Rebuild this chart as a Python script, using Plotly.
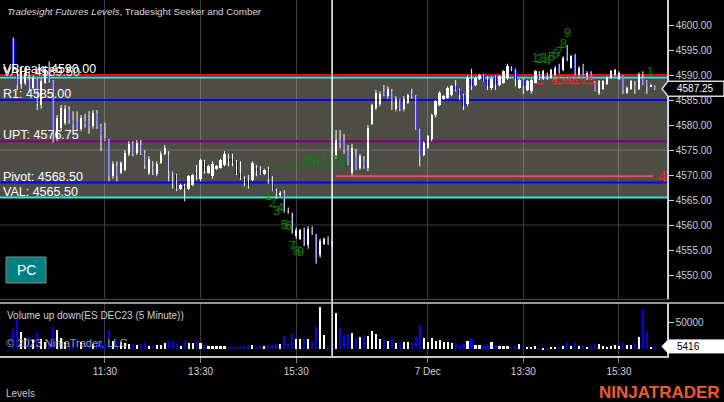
import plotly.graph_objects as go

# ---------------- data ----------------
tick_idx = [23, 47, 71, 104, 128, 152]
tick_txt = ["11:30", "13:30", "15:30", "7 Dec", "13:30", "15:30"]

opens = [4597.25, 4590.75, 4588.25, 4588.5, 4589.0, 4587.5, 4589.0, 4584.0, 4588.5, 4591.25,
         4588.75, 4577.5, 4579.5, 4580.5, 4583.0, 4581.0, 4580.75, 4579.25, 4580.75, 4580.25,
         4579.75, 4582.5, 4579.75, 4577.5, 4577.0, 4569.75, 4571.75, 4570.5, 4571.0, 4574.25,
         4576.5, 4574.5, 4576.0, 4574.5, 4570.5, 4571.5, 4570.25, 4572.5, 4574.25, 4574.25,
         4570.75, 4570.0, 4567.25, 4567.75, 4567.25, 4568.0, 4570.25, 4569.25, 4572.75, 4570.5,
         4569.75, 4571.25, 4571.5, 4572.0, 4573.25, 4573.25, 4572.75, 4570.5, 4569.25, 4568.75,
         4569.0, 4571.5, 4571.0, 4570.25, 4571.25, 4568.75, 4566.75, 4566.0, 4566.5, 4563.0,
         4562.25, 4557.75, 4557.25, 4559.25, 4556.0, 4559.25, 4558.0, 4554.0, 4556.25, 4557.25,
         4556.75,
         4574.0, 4577.0, 4576.75, 4575.0, 4570.5, 4573.75, 4571.5, 4573.25, 4571.5, 4580.25,
         4583.5, 4584.25, 4586.75, 4585.75, 4586.75, 4583.25, 4584.75, 4583.25, 4584.5, 4586.25,
         4585.75, 4579.25, 4574.0, 4575.5, 4577.25, 4582.0, 4584.0, 4585.25, 4585.5, 4586.0,
         4587.75, 4587.0, 4586.0, 4584.25, 4589.25, 4588.0, 4589.25, 4590.0, 4589.0, 4587.5,
         4589.75, 4588.0, 4588.5, 4589.5, 4591.5, 4591.0, 4587.5, 4589.0, 4587.0, 4586.75,
         4588.5, 4590.0, 4589.25, 4590.25, 4589.5, 4589.5, 4591.75, 4591.0, 4593.25, 4591.5,
         4594.0, 4590.0, 4591.0, 4589.25, 4590.75, 4588.0, 4586.5, 4587.25, 4588.25, 4589.5,
         4590.0, 4589.25, 4589.75, 4586.5, 4587.25, 4587.75, 4587.25, 4589.5, 4588.75, 4587.75,
         4588.0]
highs = [4597.5, 4591.25, 4590.75, 4591.0, 4590.75, 4590.0, 4589.25, 4589.25, 4591.75, 4592.75,
         4589.0, 4582.0, 4584.0, 4584.0, 4583.75, 4582.75, 4582.75, 4582.0, 4582.25, 4582.75,
         4583.0, 4583.0, 4580.25, 4580.5, 4577.25, 4572.75, 4572.75, 4572.75, 4575.0, 4576.75,
         4576.75, 4577.0, 4577.0, 4575.0, 4573.75, 4572.75, 4572.75, 4574.75, 4576.0, 4574.75,
         4570.75, 4570.25, 4568.25, 4568.25, 4570.0, 4570.25, 4572.0, 4573.25, 4573.0, 4572.0,
         4572.75, 4572.0, 4573.25, 4574.75, 4574.25, 4574.25, 4573.0, 4572.75, 4569.75, 4570.0,
         4572.75, 4572.0, 4571.75, 4571.25, 4571.75, 4569.75, 4567.25, 4566.75, 4567.0, 4563.5,
         4562.5, 4559.5, 4559.25, 4559.5, 4559.75, 4559.75, 4558.25, 4557.25, 4557.5, 4557.75,
         4556.75,
         4579.0, 4579.0, 4578.25, 4576.0, 4576.25, 4575.25, 4574.25, 4573.75, 4580.0, 4584.25,
         4587.0, 4586.75, 4588.0, 4587.75, 4587.25, 4585.75, 4585.25, 4585.75, 4586.25, 4587.25,
         4586.0, 4579.25, 4576.75, 4578.0, 4582.25, 4585.0, 4586.75, 4586.0, 4587.75, 4588.0,
         4589.0, 4587.25, 4586.25, 4590.0, 4591.25, 4589.75, 4590.25, 4590.25, 4589.75, 4589.75,
         4590.0, 4590.0, 4591.0, 4592.25, 4591.75, 4591.25, 4589.25, 4589.25, 4589.0, 4589.25,
         4591.0, 4590.75, 4591.0, 4590.5, 4591.25, 4591.75, 4592.25, 4593.75, 4596.0, 4594.0,
         4594.25, 4591.75, 4592.25, 4590.75, 4590.75, 4588.75, 4589.0, 4589.0, 4589.75, 4591.0,
         4591.25, 4590.75, 4590.0, 4587.75, 4589.0, 4588.75, 4590.5, 4590.75, 4589.0, 4588.25,
         4588.0]
lows = [4591.0, 4587.0, 4587.25, 4588.0, 4586.75, 4587.0, 4583.0, 4583.25, 4588.25, 4588.5,
        4576.5, 4576.75, 4578.75, 4580.0, 4580.25, 4578.75, 4578.75, 4578.75, 4579.5, 4578.25,
        4579.25, 4579.25, 4574.75, 4576.75, 4568.75, 4569.25, 4568.75, 4570.25, 4570.75, 4573.75,
        4573.75, 4574.0, 4574.0, 4571.25, 4570.0, 4570.0, 4569.75, 4572.25, 4574.0, 4568.75,
        4567.25, 4566.75, 4567.0, 4564.75, 4567.0, 4567.75, 4569.0, 4568.75, 4570.25, 4570.25,
        4569.25, 4571.0, 4571.25, 4571.75, 4571.75, 4571.75, 4570.0, 4569.0, 4567.75, 4567.25,
        4568.75, 4569.75, 4570.0, 4570.0, 4568.25, 4566.75, 4565.25, 4565.75, 4562.5, 4562.25,
        4558.25, 4557.25, 4557.0, 4555.75, 4555.25, 4558.0, 4552.25, 4553.5, 4556.0, 4556.0,
        4555.75,
        4573.25, 4575.25, 4574.25, 4572.0, 4569.75, 4571.0, 4571.0, 4571.25, 4570.75, 4580.0,
        4583.0, 4583.75, 4585.75, 4585.25, 4583.0, 4582.75, 4582.75, 4582.75, 4584.25, 4585.25,
        4579.0, 4571.75, 4573.75, 4575.25, 4576.75, 4581.5, 4583.75, 4585.0, 4585.25, 4585.75,
        4586.75, 4585.0, 4583.0, 4583.75, 4587.0, 4587.75, 4589.0, 4588.75, 4587.0, 4587.0,
        4587.0, 4587.75, 4588.25, 4589.0, 4590.75, 4587.75, 4587.25, 4586.25, 4586.75, 4586.25,
        4588.25, 4589.0, 4589.0, 4589.0, 4589.25, 4589.0, 4590.25, 4590.75, 4592.75, 4591.25,
        4589.75, 4589.75, 4589.75, 4589.0, 4589.0, 4586.75, 4586.0, 4587.0, 4588.0, 4589.25,
        4589.75, 4589.0, 4586.25, 4586.25, 4587.0, 4586.25, 4587.0, 4588.0, 4586.25, 4587.75,
        4587.0]
closes = [4591.5, 4588.0, 4590.5, 4590.5, 4587.25, 4589.5, 4584.25, 4588.75, 4591.25, 4588.75,
          4578.0, 4581.5, 4583.5, 4583.25, 4581.0, 4580.25, 4579.25, 4581.5, 4580.0, 4579.75,
          4582.5, 4579.75, 4577.75, 4577.0, 4569.75, 4572.25, 4569.75, 4572.5, 4574.5, 4576.25,
          4574.25, 4576.5, 4574.25, 4571.75, 4573.25, 4571.25, 4572.25, 4574.25, 4575.5, 4570.75,
          4570.5, 4567.25, 4568.0, 4567.25, 4569.75, 4570.0, 4570.0, 4573.0, 4570.75, 4571.75,
          4572.25, 4571.75, 4573.0, 4574.25, 4572.75, 4572.5, 4570.25, 4569.5, 4568.75, 4567.75,
          4572.5, 4570.75, 4570.25, 4571.0, 4569.25, 4566.75, 4566.25, 4566.5, 4562.75, 4562.5,
          4558.5, 4559.0, 4559.0, 4555.75, 4559.25, 4558.25, 4553.5, 4556.75, 4557.25, 4556.75,
          4555.75,
          4577.0, 4576.5, 4575.0, 4572.25, 4575.5, 4571.25, 4573.75, 4571.75, 4579.5, 4584.0,
          4586.5, 4586.25, 4586.0, 4587.25, 4584.75, 4585.25, 4583.25, 4585.25, 4586.0, 4585.75,
          4579.25, 4573.75, 4576.5, 4577.75, 4582.0, 4584.75, 4586.5, 4585.75, 4587.5, 4587.75,
          4587.0, 4586.0, 4583.75, 4589.5, 4587.75, 4589.5, 4590.0, 4588.75, 4587.75, 4589.25,
          4588.0, 4589.75, 4590.75, 4591.75, 4591.0, 4589.25, 4589.0, 4587.75, 4588.75, 4589.0,
          4590.75, 4589.25, 4590.75, 4589.75, 4591.0, 4591.5, 4590.75, 4593.5, 4593.0, 4593.75,
          4590.0, 4591.5, 4590.0, 4590.5, 4589.0, 4587.0, 4588.75, 4588.75, 4589.5, 4590.75,
          4591.0, 4590.5, 4587.0, 4587.5, 4588.75, 4587.25, 4590.25, 4588.25, 4587.75, 4588.0,
          4587.25]
volumes = [39000, 55000, 33000, 22000, 23000, 17000, 30000, 20000, 14000, 12000,
           42000, 37000, 22000, 14000, 14000, 14000, 17000, 14000, 11000, 11000,
           9500, 9500, 17000, 11000, 37000, 16000, 14000, 14000, 12000, 9500,
           9500, 8200, 10000, 11000, 7000, 7000, 9000, 9000, 11000, 15000,
           15000, 12000, 7000, 15000, 12000, 11000, 15000, 12000, 7600, 5700,
           5700, 6300, 5700, 6300, 4400, 4400, 5000, 6300, 7000, 8200,
           9000, 4400, 6300, 7000, 8200, 8200, 9500, 9500, 25000, 9500,
           28000, 19000, 19000, 19000, 19000, 16000, 41000, 80000, 27000, 4400,
           3200,
           69000, 40500, 27000, 29000, 31000, 21500, 23400, 27000, 25000,
           35000, 28000, 19600, 17000, 16000, 21000, 12000, 12000, 14000, 14000,
           12000, 23400, 45600, 21500, 14000, 21000, 16500, 17000, 14000, 14000,
           12000, 12000, 9000, 10000, 16000, 19000, 8200, 8200, 6300, 7600,
           13000, 8200, 5700, 5700, 5700, 3800, 8200, 9500, 5700, 3800,
           3800, 5700, 1900, 2500, 2500, 3800, 3800, 3800, 6300, 13000,
           6300, 11400, 6300, 6300, 4400, 6300, 10000, 10000, 6300, 4400,
           6300, 8200, 6300, 11400, 8200, 8200, 10000, 23400, 76000, 33000,
           3800, 5416]

level_names = ["VBreak", "VAH", "R1", "UPT", "Pivot", "VAL"]
level_values = [4590.00, 4589.50, 4585.00, 4576.75, 4568.50, 4565.50]

price_ticks = [4550, 4555, 4560, 4565, 4570, 4575, 4580, 4585, 4590, 4595, 4600]
price_grid = [4560, 4575, 4590]
vol_ticks = [50000]

# Tradesight counts (bar index, count)
td_low_idx = [64, 65, 66, 67, 68, 69, 70, 71, 72]
td_low_cnt = [1, 2, 3, 4, 5, 6, 7, 8, 9]
td_high_idx = [131, 132, 133, 134, 135, 136, 137, 138, 139, 160]
td_high_cnt = [1, 2, 3, 4, 5, 6, 7, 8, 9, 1]

# Seeker / Comber levels: (start bar, end bar, price)
green_level = (64, 84, 4571.75)
red_dash_level = (131, 146.5, 4588.25)
red_level = (81, 160.5, 4569.75, "4")
cursor_bar = 80

# ---------------- geometry / style ----------------
W, H = 724, 402
PR = 667          # right edge of plot area (px)
PB = 356          # bottom of plot area (px)
price_top, price_bot = 0, 299
vol_top = 303
x_range = [-3.34, 164.05]
price_range = [4605 - price_bot / 5.0, 4605.0]
vol_range = [-12600, 87000]

BLUE = "#0000ff"
CYAN = "#3ee0e0"
level_colors = ["#ff0000", CYAN, BLUE, "#800080", BLUE, CYAN]
FONT = "Liberation Sans, Arial, sans-serif"


def px_x(px):
    return px / PR


def px_y(py):
    return (PB - py) / PB


idx = list(range(len(opens)))
is_up = [c >= o for o, c in zip(opens, closes)]
col = ["#ffffff" if u else BLUE for u in is_up]

wx, wy = [], []
for i, hv, lv in zip(idx, highs, lows):
    wx += [i, i, None]
    wy += [lv, hv, None]

fig = go.Figure()
fig.add_trace(go.Bar(x=idx, y=volumes, marker=dict(color=col, line=dict(width=0)),
                     width=0.55, xaxis="x2", yaxis="y2", showlegend=False))
fig.add_trace(go.Scatter(x=wx, y=wy, mode="lines", line=dict(color="#ffffff", width=1),
                         showlegend=False, hoverinfo="skip"))
fig.add_trace(go.Bar(x=idx, y=[abs(c - o) for o, c in zip(opens, closes)],
                     base=[min(o, c) for o, c in zip(opens, closes)],
                     marker=dict(color=col, line=dict(width=0)), width=0.6, showlegend=False))

shapes = []
for g in price_grid:
    shapes.append(dict(type="line", xref="x", yref="y", x0=x_range[0], x1=x_range[1], y0=g, y1=g,
                       line=dict(color="#3c3c3c", width=1), layer="below"))
# value area fill
shapes.append(dict(type="rect", xref="x", yref="y", x0=x_range[0], x1=x_range[1],
                   y0=level_values[5], y1=level_values[1],
                   fillcolor="rgba(192,190,172,0.40)", line=dict(width=0), layer="between"))
for v, c in zip(level_values, level_colors):
    shapes.append(dict(type="line", xref="x", yref="y", x0=x_range[0], x1=x_range[1], y0=v, y1=v,
                       line=dict(color=c, width=2), layer="between"))
shapes.append(dict(type="line", xref="x", yref="y", x0=green_level[0], x1=green_level[1],
                   y0=green_level[2], y1=green_level[2],
                   line=dict(color="#008000", width=1.5, dash="dot")))
shapes.append(dict(type="line", xref="x", yref="y", x0=red_dash_level[0], x1=red_dash_level[1],
                   y0=red_dash_level[2], y1=red_dash_level[2],
                   line=dict(color="#ff2020", width=1.5, dash="dash")))
shapes.append(dict(type="line", xref="x", yref="y", x0=red_level[0], x1=red_level[1],
                   y0=red_level[2], y1=red_level[2], line=dict(color="#ff4a4a", width=2)))
# cursor line
shapes.append(dict(type="line", xref="x", yref="paper", x0=cursor_bar, x1=cursor_bar, y0=0, y1=1,
                   line=dict(color="#ffffff", width=1.5)))
# panel separator
shapes.append(dict(type="line", xref="paper", yref="paper", x0=0, x1=W / PR,
                   y0=px_y(vol_top), y1=px_y(vol_top), line=dict(color="#c8c8c8", width=1.5)))
# PC button
shapes.append(dict(type="rect", xref="paper", yref="paper", x0=px_x(6), x1=px_x(46),
                   y0=px_y(283), y1=px_y(257), fillcolor="#008080",
                   line=dict(color="#8a8a8a", width=1)))
# price tag
shapes.append(dict(type="path", xref="paper", yref="y", xsizemode="pixel", ysizemode="pixel",
                   xanchor=1, yanchor=closes[-1],
                   path="M -5 0 L 1 7.5 L 57 7.5 L 57 -7.5 L 1 -7.5 Z",
                   fillcolor="#000000", line=dict(color="#d8d8d8", width=1.5)))
# volume tag
shapes.append(dict(type="path", xref="paper", yref="y2", xsizemode="pixel", ysizemode="pixel",
                   xanchor=1, yanchor=volumes[-1],
                   path="M -5 0 L 1 6.5 L 57 6.5 L 57 -6.5 L 1 -6.5 Z",
                   fillcolor="#ffffff", line=dict(color="#ffffff", width=1)))

ann = []
ann.append(dict(xref="paper", yref="paper", x=px_x(5), y=px_y(11), xanchor="left", yanchor="middle",
                text="<i>Tradesight Futures Levels</i>, Tradesight Seeker and Comber",
                showarrow=False, font=dict(family=FONT, size=9.8, color="#d6d6d6")))
for n, v in zip(level_names, level_values):
    ann.append(dict(xref="paper", yref="y", x=0, y=v, xanchor="left", yanchor="bottom",
                    xshift=1, yshift=-3, text=f"{n}: {v:.2f}", showarrow=False,
                    font=dict(family=FONT, size=12.5, color="#ffffff")))
for i, cnt in zip(td_low_idx, td_low_cnt):
    ann.append(dict(x=i, y=lows[i], xref="x", yref="y", xanchor="center", yanchor="middle",
                    yshift=-12, text=str(cnt), showarrow=False,
                    font=dict(family=FONT, size=12.5, color="#008a00")))
for i, cnt in zip(td_high_idx, td_high_cnt):
    ann.append(dict(x=i, y=highs[i], xref="x", yref="y", xanchor="center", yanchor="middle",
                    yshift=12, text=str(cnt), showarrow=False,
                    font=dict(family=FONT, size=12.5, color="#008a00")))
ann.append(dict(x=green_level[1], y=green_level[2], xref="x", yref="y", xanchor="right",
                yanchor="middle", yshift=5, text=f"{green_level[2]:.2f}", showarrow=False,
                font=dict(family=FONT, size=12, color="#008a00")))
ann.append(dict(x=red_dash_level[1], y=red_dash_level[2], xref="x", yref="y", xanchor="right",
                yanchor="middle", yshift=4, text=f"{red_dash_level[2]:.2f}", showarrow=False,
                font=dict(family=FONT, size=12, color="#ff2020")))
ann.append(dict(x=red_level[1], y=red_level[2], xref="x", yref="y", xanchor="left",
                yanchor="middle", xshift=3, text=red_level[3], showarrow=False,
                font=dict(family="Liberation Serif, serif", size=17, color="#ff2020")))
ann.append(dict(xref="paper", yref="paper", x=px_x(26), y=px_y(270), xanchor="center",
                yanchor="middle", text="PC", showarrow=False,
                font=dict(family=FONT, size=14, color="#ffffff")))
ann.append(dict(xref="paper", yref="paper", x=px_x(5), y=px_y(315), xanchor="left",
                yanchor="middle", text="Volume up down(ES DEC23 (5 Minute))", showarrow=False,
                font=dict(family=FONT, size=10, color="#d0d0d0")))
ann.append(dict(xref="paper", yref="paper", x=px_x(4), y=px_y(343), xanchor="left",
                yanchor="middle", text="© 2023 NinjaTrader, LLC", showarrow=False,
                font=dict(family=FONT, size=11, color="#9a9a9a")))
ann.append(dict(xref="paper", yref="y", x=1, y=closes[-1], xanchor="left", yanchor="middle",
                xshift=8, text=f"{closes[-1]:.2f}", showarrow=False,
                font=dict(family=FONT, size=10, color="#ffffff")))
ann.append(dict(xref="paper", yref="y2", x=1, y=volumes[-1], xanchor="left", yanchor="middle",
                xshift=8, text=str(volumes[-1]), showarrow=False,
                font=dict(family=FONT, size=10, color="#000000")))
ann.append(dict(xref="paper", yref="paper", x=px_x(4), y=px_y(393), xanchor="left",
                yanchor="middle", text="Levels", showarrow=False,
                font=dict(family=FONT, size=10, color="#c8c8c8")))
ann.append(dict(xref="paper", yref="paper", x=px_x(722), y=px_y(392), xanchor="right",
                yanchor="middle", text="<b>NINJATRADER</b>", showarrow=False,
                font=dict(family="Liberation Sans Narrow, Liberation Sans, Arial", size=17,
                          color="#f05a28")))

axis_font = dict(family=FONT, size=10, color="#c4d0dc")
fig.update_layout(
    width=W, height=H, margin=dict(l=0, r=W - PR, t=0, b=H - PB),
    paper_bgcolor="#000000", plot_bgcolor="#000000", barmode="overlay", bargap=0,
    showlegend=False, shapes=shapes, annotations=ann,
    xaxis=dict(domain=[0, 1], range=x_range, anchor="y", tickvals=tick_idx,
               showticklabels=False, showgrid=True, gridcolor="#3c3c3c", gridwidth=1,
               zeroline=False, showline=True, linecolor="#4a4a4a", linewidth=1, ticks=""),
    yaxis=dict(domain=[px_y(price_bot), 1], range=price_range, anchor="x", side="right",
               tickvals=price_ticks, ticktext=[f"{t:.2f}" for t in price_ticks],
               tickfont=axis_font, ticks="outside", ticklen=5, tickcolor="#d0d0d0",
               showline=True, linecolor="#d0d0d0", linewidth=1.5, showgrid=False,
               zeroline=False),
    xaxis2=dict(domain=[0, 1], range=x_range, anchor="y2", tickvals=tick_idx, ticktext=tick_txt,
                tickfont=dict(family=FONT, size=10, color="#d0d0d0"), ticks="outside",
                ticklen=5, tickcolor="#808080", showline=True, linecolor="#c8c8c8",
                linewidth=1.5, showgrid=True, gridcolor="#3c3c3c", zeroline=False),
    yaxis2=dict(domain=[0, px_y(vol_top)], range=vol_range, anchor="x2", side="right",
                tickvals=vol_ticks, ticktext=[str(t) for t in vol_ticks], tickfont=axis_font,
                ticks="outside", ticklen=5, tickcolor="#d0d0d0", showline=True,
                linecolor="#d0d0d0", linewidth=1.5, showgrid=False, zeroline=False),
)

fig.write_html("out.html", config={"displayModeBar": False},
               post_script="document.body.style.margin='0';document.body.style.background='#000';")
